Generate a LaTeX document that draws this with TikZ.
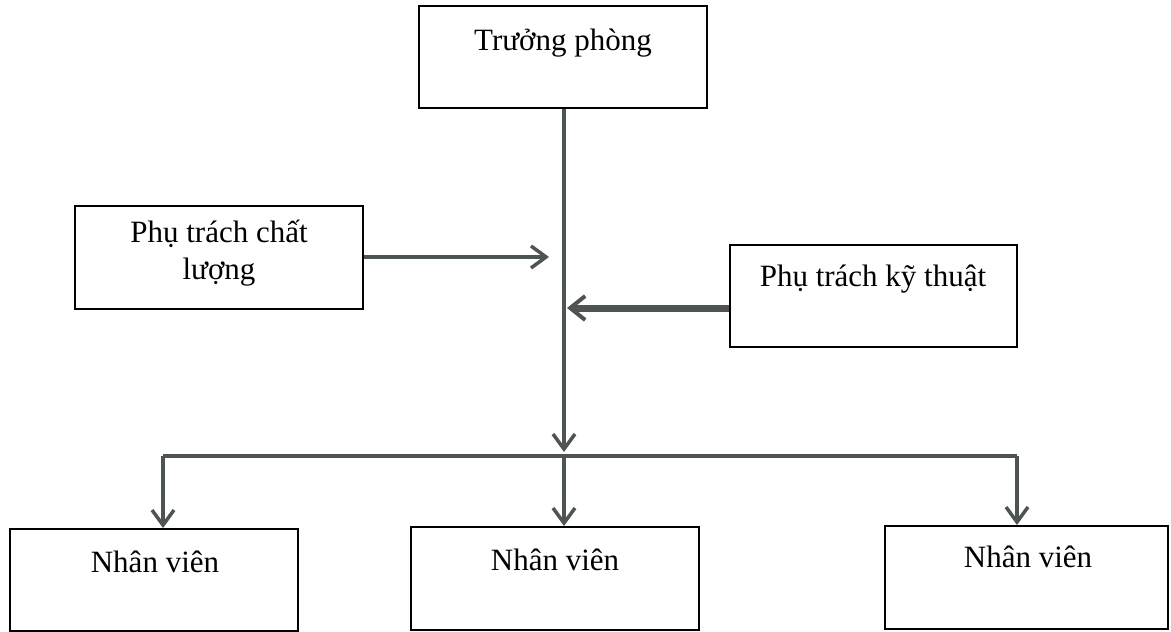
\documentclass[tikz,border=0pt]{standalone}
\usepackage{fontspec}
\setmainfont{Liberation Serif}
\usetikzlibrary{arrows.meta}
\definecolor{connc}{RGB}{78,84,82}
\tikzset{
  box/.style={draw=black, line width=2pt, rectangle, inner sep=0pt, fill=white},
  lbl/.style={font=\fontsize{31}{37}\selectfont, align=center, inner sep=0pt},
  conn/.style={draw=connc, line width=4pt},
  tip/.style={-{Straight Barb[length=15pt,width=22pt,line width=3.5pt]}},
}
\begin{document}
\begin{tikzpicture}[x=1pt,y=-1pt]
\useasboundingbox (0,0) rectangle (1171,632);
% boxes
\node[box, minimum width=288pt, minimum height=102pt] (tp) at (563,57) {};
\node[lbl] (tpt) at (563,43) {Trưởng phòng};
\node[box, minimum width=288pt, minimum height=103pt] (ql) at (219,257) {};
\node[lbl] (qlt) at (219,253) {Phụ trách chất\\lượng};
\node[box, minimum width=287pt, minimum height=102pt] (kt) at (873.5,296) {};
\node[lbl] (ktt) at (873,279) {Phụ trách kỹ thuật};
\node[box, minimum width=288pt, minimum height=102pt] (nv1) at (154,580) {};
\node[lbl] (nv1t) at (155,562) {Nhân viên};
\node[box, minimum width=288pt, minimum height=103pt] (nv2) at (555,578.5) {};
\node[lbl] (nv2t) at (555,560) {Nhân viên};
\node[box, minimum width=283pt, minimum height=103pt] (nv3) at (1026.5,577.5) {};
\node[lbl] (nv3t) at (1028,557) {Nhân viên};
% coordinates
\coordinate (busL) at (163,456);
\coordinate (busM) at (564,456);
\coordinate (busR) at (1017,456);
\coordinate (spineEnd) at (564,452);
\coordinate (qlEnd) at (549,257);
\coordinate (ktEnd) at (567,308);
% spine and bus
\draw[conn, tip] (tp.south -| busM) -- (spineEnd);
\draw[conn, line width=4.5pt] (busL) -- (busR);
\draw[conn, tip] (busL) -- (busL |- nv1.north);
\draw[conn, tip] (busM) -- (busM |- nv2.north);
\draw[conn, tip] (busR) -- (busR |- nv3.north);
% side arrows
\draw[conn, line width=4.5pt, tip] (ql.east) -- (qlEnd);
\draw[conn, line width=7pt, -{Straight Barb[length=15pt,width=24pt,line width=4pt]}] (kt.west |- ktEnd) -- (ktEnd);
\end{tikzpicture}
\end{document}
